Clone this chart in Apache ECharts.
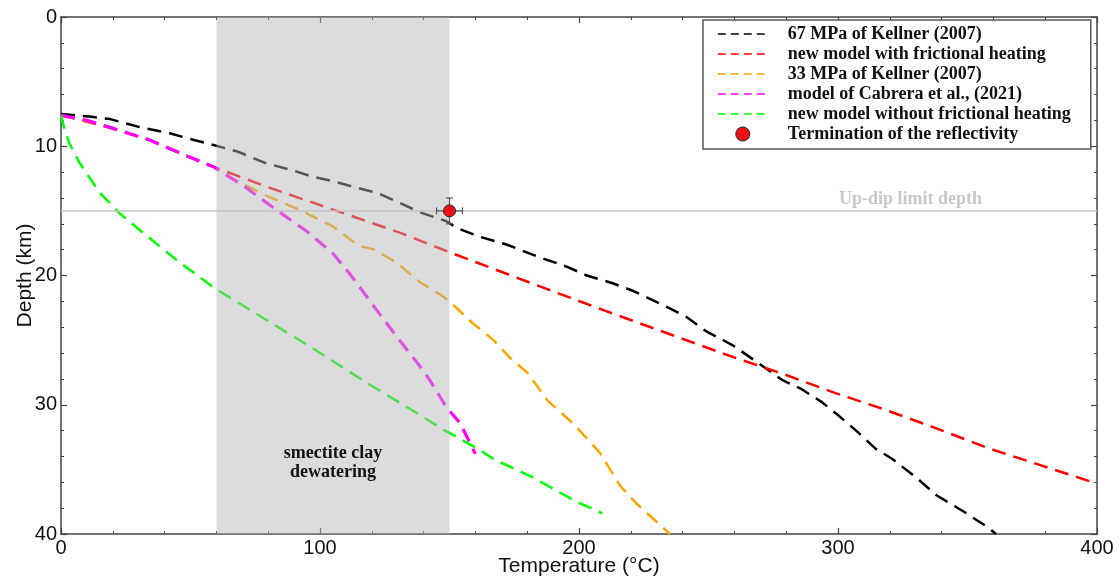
<!DOCTYPE html>
<html>
<head>
<meta charset="utf-8">
<script src="https://cdn.jsdelivr.net/npm/echarts@6/dist/echarts.min.js"></script>
<style>
html,body{margin:0;padding:0;background:#fff;}
#chart{width:1120px;height:580px;}
</style>
</head>
<body>
<div id="chart"></div>
<script>
// [temperature (°C), depth (km)]
const kellner67 = [[0,7.5],[11,7.7],[19,7.9],[30,8.5],[42,9.0],[51,9.5],[57,9.8],[68,10.4],[79,11.3],[90,11.9],[97,12.35],[105,12.7],[114,13.2],[122,13.6],[131,14.4],[138.5,15.1],[148.8,15.8],[152.6,16.3],[161.7,17.0],[172,17.6],[183.5,18.5],[195,19.3],[203,20.0],[213,20.6],[221,21.2],[233.7,22.4],[241.4,23.2],[249,24.3],[259.4,25.4],[268,26.6],[278.6,28.1],[286,28.8],[293.8,29.8],[300,30.8],[307,32.0],[314.5,33.4],[321,34.2],[330,35.6],[338,37.0],[348,38.2],[358,39.5],[361,40]];
const newWithFriction = [[0,7.6],[15,8.35],[34,9.5],[48,10.7],[59,11.6],[79,13.1],[105,14.9],[131,16.7],[150,18.2],[187,21.0],[209.7,22.7],[229,24.1],[259.3,26.3],[278.6,27.6],[299,29.1],[317,30.3],[339,31.9],[358.6,33.4],[400,36.1]];
const kellner33 = [[0,7.6],[15,8.3],[34,9.5],[48,10.7],[59,11.6],[66,12.5],[79,13.8],[92,14.9],[105,16.2],[115,17.7],[121,18.0],[129.5,19.0],[138.5,20.5],[147.4,21.6],[150,22.0],[159,23.7],[167,25.0],[173,26.3],[180,27.5],[188,29.7],[198,31.5],[208,33.7],[216,36.3],[222,37.6],[234,39.8],[235,40]];
const cabrera2021 = [[0,7.6],[10,8.0],[20,8.6],[34,9.5],[48,10.7],[59,11.6],[70,13.0],[83,14.9],[95,16.6],[105,18.3],[112,20.0],[119,21.9],[129.5,24.7],[138.5,27.0],[142.4,28.1],[148.8,30.2],[154,31.4],[160,33.8]];
const newWithoutFriction = [[0,7.6],[1.5,8.8],[3.3,9.8],[7.2,11.3],[15,13.6],[22.7,15.2],[31.7,16.7],[44.6,18.8],[58.7,20.9],[79,23.4],[98.6,25.8],[118,28.3],[137,30.6],[147.5,31.9],[161.7,33.5],[167,34.2],[182,35.6],[199,37.5],[209,38.4]];
// [temperature, depth, temperature error, depth error]
const reflectivityEnd = [[150,15,5,1]];
// smectite clay dewatering window [tMin, tMax, dMin, dMax]
const dewateringWindow = [[60,150,0,40]];
const updipDepth = [[0,15],[400,15]];
const xTicks = [0,100,200,300,400];
const yTicks = [0,10,20,30,40];

const seriesNames = ['67 MPa of Kellner (2007)','new model with frictional heating','33 MPa of Kellner (2007)','model of Cabrera et al., (2021)','new model without frictional heating','Termination of the reflectivity'];

const serif = '"Liberation Serif","DejaVu Serif",serif';
const sans = '"Liberation Sans",Arial,sans-serif';

function lineSeries(name, data, color, width){
  return {name:name, type:'line', data:data, showSymbol:false, symbol:'none', z:2,
    lineStyle:{color:color, width:width, type:[14,8]}, itemStyle:{color:color}};
}
const axisCommon = {
  axisLine:{show:true, onZero:false, lineStyle:{color:'#444', width:1.5}},
  axisTick:{show:true, inside:true, length:6, lineStyle:{color:'#444', width:1.2}},
  minorTick:{show:true, splitNumber:5, length:3, lineStyle:{color:'#444', width:1}},
  splitLine:{show:false}
};
const hiddenSymbol = {opacity:0};
const chart = echarts.init(document.getElementById('chart'));
chart.setOption({
  animation:false,
  backgroundColor:'#fff',
  grid:{left:61, right:23, top:17, bottom:46, containLabel:false, outerBoundsMode:'none'},
  xAxis:[
    Object.assign({type:'value', min:xTicks[0], max:xTicks[xTicks.length-1], interval:xTicks[1]-xTicks[0], position:'bottom',
      name:'Temperature (°C)', nameLocation:'middle', nameGap:22, nameMoveOverlap:false,
      nameTextStyle:{fontFamily:sans, fontSize:21, color:'#111'},
      axisLabel:{fontFamily:sans, fontSize:20, color:'#111', margin:4}}, axisCommon),
    Object.assign({type:'value', min:xTicks[0], max:xTicks[xTicks.length-1], interval:xTicks[1]-xTicks[0], position:'top',
      axisLabel:{show:false}}, axisCommon)
  ],
  yAxis:[
    Object.assign({type:'value', inverse:true, min:yTicks[0], max:yTicks[yTicks.length-1], interval:yTicks[1]-yTicks[0], position:'left',
      name:'Depth (km)', nameLocation:'middle', nameGap:25, nameRotate:90, nameMoveOverlap:false,
      nameTextStyle:{fontFamily:sans, fontSize:21, color:'#111'},
      axisLabel:{fontFamily:sans, fontSize:20, color:'#111', margin:4}}, axisCommon),
    Object.assign({type:'value', inverse:true, min:yTicks[0], max:yTicks[yTicks.length-1], interval:yTicks[1]-yTicks[0], position:'right',
      axisLabel:{show:false}}, axisCommon)
  ],
  legend:{
    orient:'vertical', left:703, top:20,
    padding:[5,20,6,14], itemGap:2, itemWidth:50, itemHeight:14,
    backgroundColor:'#fff', borderColor:'#555', borderWidth:1.5, borderRadius:0,
    lineStyle:{width:1.6, type:[8,5]},
    textStyle:{fontFamily:serif, fontWeight:'bold', fontSize:18, lineHeight:18, color:'#111', padding:[0,0,0,15]},
    data:[
      {name:seriesNames[0], itemStyle:hiddenSymbol},{name:seriesNames[1], itemStyle:hiddenSymbol},{name:seriesNames[2], itemStyle:hiddenSymbol},
      {name:seriesNames[3], itemStyle:hiddenSymbol},{name:seriesNames[4], itemStyle:hiddenSymbol},
      {name:seriesNames[5], icon:'circle', itemStyle:{color:'#ee1111', borderColor:'#222', borderWidth:1, opacity:1}}
    ]
  },
  series:[
    lineSeries(seriesNames[0], kellner67, '#000000', 2.5),
    lineSeries(seriesNames[1], newWithFriction, '#ff0000', 2.5),
    lineSeries(seriesNames[2], kellner33, '#ffa500', 2.5),
    lineSeries(seriesNames[3], cabrera2021, '#ff00ff', 3.2),
    lineSeries(seriesNames[4], newWithoutFriction, '#00ff00', 2.5),
    {
      type:'custom', name:'dewatering', data:dewateringWindow, z:5, silent:true,
      encode:{x:[0,1], y:[2,3]},
      renderItem:function(params, api){
        const p0 = api.coord([api.value(0), api.value(2)]);
        const p1 = api.coord([api.value(1), api.value(3)]);
        return {type:'rect', shape:{x:p0[0], y:p0[1], width:p1[0]-p0[0], height:p1[1]-p0[1]},
          style:{fill:'rgba(181,181,181,0.47)'}};
      }
    },
    {
      type:'line', name:'updip', data:updipDepth, z:6, silent:true, showSymbol:false, symbol:'none',
      lineStyle:{color:'#c4c4c4', width:1.5},
      markPoint:{
        symbol:'circle', symbolSize:0, silent:true,
        data:[
          {coord:[328,14.1], label:{show:true, position:'inside', formatter:'Up-dip limit depth',
            fontFamily:serif, fontWeight:'bold', fontSize:18, color:'#c8c8c8'}},
          {coord:[105,34.5], label:{show:true, position:'inside', formatter:'smectite clay\ndewatering',
            fontFamily:serif, fontWeight:'bold', fontSize:18, lineHeight:19, color:'#111', align:'center'}}
        ]
      }
    },
    {
      type:'custom', name:seriesNames[5], data:reflectivityEnd, z:8,
      encode:{x:0, y:1},
      itemStyle:{color:'#ee1111', borderColor:'#222'},
      renderItem:function(params, api){
        const t = api.value(0), d = api.value(1), et = api.value(2), ed = api.value(3);
        const c = api.coord([t,d]);
        const l = api.coord([t-et,d]), r = api.coord([t+et,d]);
        const tp = api.coord([t,d-ed]), bt = api.coord([t,d+ed]);
        const cap = 3.5;
        const st = {stroke:'#555', lineWidth:1.2};
        return {type:'group', children:[
          {type:'line', shape:{x1:l[0], y1:l[1], x2:r[0], y2:r[1]}, style:st},
          {type:'line', shape:{x1:tp[0], y1:tp[1], x2:bt[0], y2:bt[1]}, style:st},
          {type:'line', shape:{x1:l[0], y1:l[1]-cap, x2:l[0], y2:l[1]+cap}, style:st},
          {type:'line', shape:{x1:r[0], y1:r[1]-cap, x2:r[0], y2:r[1]+cap}, style:st},
          {type:'line', shape:{x1:tp[0]-cap, y1:tp[1], x2:tp[0]+cap, y2:tp[1]}, style:st},
          {type:'line', shape:{x1:bt[0]-cap, y1:bt[1], x2:bt[0]+cap, y2:bt[1]}, style:st},
          {type:'circle', shape:{cx:c[0], cy:c[1], r:6}, style:{fill:'#ee1111', stroke:'#222', lineWidth:1}}
        ]};
      }
    }
  ]
});
</script>
</body>
</html>
